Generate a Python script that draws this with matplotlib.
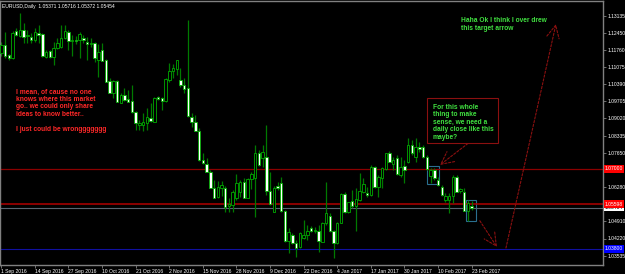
import matplotlib
matplotlib.use('Agg')
import matplotlib.pyplot as plt
import matplotlib.transforms as mtransforms
from matplotlib import font_manager

# EURUSD daily candles, 1 Sep 2016 .. 23 Feb 2017
opens = [1.1164, 1.1196, 1.1154, 1.1144, 1.1252, 1.1232, 1.1256, 1.1230, 1.1228, 1.1216,
         1.1244, 1.1240, 1.1148, 1.1170, 1.1148, 1.1184, 1.1188, 1.1224, 1.1248, 1.1210,
         1.1218, 1.1216, 1.1224, 1.1208, 1.1200, 1.1204, 1.1136, 1.1176, 1.1136, 1.1052,
         1.1004, 1.1052, 1.0965, 1.0996, 1.0980, 1.0972, 1.0929, 1.0876, 1.0876, 1.0883,
         1.0905, 1.0889, 1.0988, 1.0984, 1.0973, 1.1056, 1.1092, 1.1099, 1.1056, 1.1036,
         1.1024, 1.0908, 1.0888, 1.0852, 1.0736, 1.0719, 1.0689, 1.0625, 1.0588, 1.0624,
         1.0625, 1.0552, 1.0556, 1.0583, 1.0609, 1.0649, 1.0585, 1.0660, 1.0664, 1.0764,
         1.0744, 1.0749, 1.0613, 1.0529, 1.0632, 1.0643, 1.0532, 1.0412, 1.0436, 1.0403,
         1.0389, 1.0423, 1.0436, 1.0463, 1.0452, 1.0452, 1.0409, 1.0483, 1.0512, 1.0452,
         1.0403, 1.0485, 1.0600, 1.0527, 1.0572, 1.0552, 1.0576, 1.0609, 1.0603, 1.0596,
         1.0709, 1.0627, 1.0663, 1.0699, 1.0763, 1.0720, 1.0745, 1.0676, 1.0712, 1.0729,
         1.0796, 1.0749, 1.0788, 1.0789, 1.0747, 1.0672, 1.0696, 1.0656, 1.0627, 1.0576,
         1.0576, 1.0592, 1.0669, 1.0612, 1.0609, 1.0532, 1.0553]
highs = [1.1208, 1.1248, 1.1160, 1.1252, 1.1264, 1.1324, 1.1284, 1.1256, 1.1244, 1.1264,
         1.1276, 1.1244, 1.1176, 1.1176, 1.1208, 1.1224, 1.1276, 1.1276, 1.1256, 1.1236,
         1.1232, 1.1248, 1.1236, 1.1228, 1.1224, 1.1208, 1.1200, 1.1203, 1.1140, 1.1064,
         1.1056, 1.1056, 1.1004, 1.1024, 1.1016, 1.1036, 1.0932, 1.0896, 1.0924, 1.0944,
         1.0964, 1.0988, 1.0992, 1.0988, 1.1064, 1.1124, 1.1120, 1.1136, 1.1104, 1.1064,
         1.1296, 1.0924, 1.0916, 1.0864, 1.0764, 1.0744, 1.0696, 1.0656, 1.0652, 1.0652,
         1.0632, 1.0584, 1.0616, 1.0679, 1.0656, 1.0663, 1.0665, 1.0689, 1.0796, 1.0776,
         1.0796, 1.0876, 1.0689, 1.0632, 1.0649, 1.0669, 1.0536, 1.0463, 1.0444, 1.0416,
         1.0449, 1.0496, 1.0476, 1.0472, 1.0468, 1.0476, 1.0489, 1.0649, 1.0523, 1.0456,
         1.0489, 1.0603, 1.0609, 1.0569, 1.0616, 1.0623, 1.0683, 1.0663, 1.0629, 1.0716,
         1.0713, 1.0676, 1.0709, 1.0763, 1.0772, 1.0748, 1.0756, 1.0748, 1.0736, 1.0823,
         1.0816, 1.0823, 1.0808, 1.0796, 1.0756, 1.0704, 1.0704, 1.0668, 1.0636, 1.0604,
         1.0604, 1.0676, 1.0676, 1.0624, 1.0624, 1.0576, 1.0572]
lows = [1.1152, 1.1144, 1.1138, 1.1140, 1.1232, 1.1228, 1.1204, 1.1204, 1.1204, 1.1208,
        1.1204, 1.1148, 1.1144, 1.1144, 1.1116, 1.1180, 1.1184, 1.1220, 1.1176, 1.1152,
        1.1200, 1.1144, 1.1204, 1.1136, 1.1188, 1.1128, 1.1068, 1.1132, 1.1048, 1.1004,
        1.0984, 1.0968, 1.0964, 1.0972, 1.0968, 1.0924, 1.0856, 1.0856, 1.0853, 1.0856,
        1.0888, 1.0888, 1.0976, 1.0936, 1.0969, 1.1049, 1.1064, 1.1076, 1.1028, 1.1004,
        1.0908, 1.0869, 1.0852, 1.0732, 1.0720, 1.0688, 1.0624, 1.0583, 1.0584, 1.0592,
        1.0527, 1.0528, 1.0529, 1.0576, 1.0589, 1.0584, 1.0583, 1.0620, 1.0509, 1.0712,
        1.0708, 1.0596, 1.0556, 1.0528, 1.0616, 1.0529, 1.0409, 1.0365, 1.0400, 1.0349,
        1.0384, 1.0422, 1.0416, 1.0448, 1.0444, 1.0369, 1.0407, 1.0476, 1.0449, 1.0343,
        1.0399, 1.0483, 1.0523, 1.0523, 1.0543, 1.0452, 1.0572, 1.0603, 1.0589, 1.0593,
        1.0623, 1.0589, 1.0623, 1.0696, 1.0727, 1.0696, 1.0676, 1.0668, 1.0644, 1.0724,
        1.0756, 1.0729, 1.0768, 1.0744, 1.0696, 1.0644, 1.0656, 1.0632, 1.0592, 1.0568,
        1.0523, 1.0564, 1.0607, 1.0604, 1.0532, 1.0493, 1.0536]
closes = [1.1196, 1.1152, 1.1142, 1.1244, 1.1236, 1.1256, 1.1228, 1.1236, 1.1216, 1.1246,
          1.1238, 1.1152, 1.1168, 1.1148, 1.1184, 1.1204, 1.1224, 1.1252, 1.1212, 1.1216,
          1.1212, 1.1240, 1.1216, 1.1200, 1.1204, 1.1144, 1.1168, 1.1133, 1.1049, 1.1005,
          1.1052, 1.0969, 1.0996, 1.0976, 1.0969, 1.0929, 1.0883, 1.0883, 1.0889, 1.0909,
          1.0892, 1.0984, 1.0980, 1.0973, 1.1060, 1.1093, 1.1104, 1.1136, 1.1036, 1.1020,
          1.0912, 1.0889, 1.0853, 1.0736, 1.0723, 1.0689, 1.0625, 1.0585, 1.0630, 1.0636,
          1.0549, 1.0560, 1.0608, 1.0643, 1.0649, 1.0585, 1.0660, 1.0679, 1.0764, 1.0716,
          1.0768, 1.0613, 1.0559, 1.0625, 1.0625, 1.0532, 1.0412, 1.0449, 1.0403, 1.0385,
          1.0444, 1.0436, 1.0452, 1.0453, 1.0456, 1.0412, 1.0485, 1.0525, 1.0452, 1.0403,
          1.0485, 1.0600, 1.0529, 1.0567, 1.0552, 1.0580, 1.0612, 1.0639, 1.0596, 1.0709,
          1.0627, 1.0669, 1.0703, 1.0763, 1.0729, 1.0736, 1.0679, 1.0709, 1.0696, 1.0796,
          1.0763, 1.0789, 1.0780, 1.0749, 1.0699, 1.0696, 1.0663, 1.0636, 1.0596, 1.0592,
          1.0592, 1.0669, 1.0609, 1.0618, 1.0533, 1.0564, 1.0543]

date_labels = ['1 Sep 2016', '14 Sep 2016', '27 Sep 2016', '10 Oct 2016', '21 Oct 2016',
               '2 Nov 2016', '15 Nov 2016', '28 Nov 2016', '9 Dec 2016', '22 Dec 2016',
               '4 Jan 2017', '17 Jan 2017', '30 Jan 2017', '10 Feb 2017', '23 Feb 2017']
price_labels = [1.13135, 1.12450, 1.11760, 1.11075, 1.10390, 1.09705, 1.09020, 1.08335,
                1.07650, 1.06280, 1.04910, 1.04220, 1.03535]

# horizontal levels
level_top = 1.07000
level_mid = 1.05598
bid = 1.05454
target = 1.03800

BG = 'black'
WICK = '#007a00'
EDGE = '#00aa00'
GREY = '#808080'

# the terminal uses a very narrow pixel font; take the narrowest face installed
names = {f.name for f in font_manager.fontManager.ttflist}
if 'Liberation Sans Narrow' in names:
    small = dict(family='Liberation Sans Narrow', fontsize=4.3)
else:
    small = dict(family='Liberation Sans', fontsize=3.6)

fig = plt.figure(figsize=(6.25, 2.74), dpi=100, facecolor=BG)
ax = fig.add_axes([0 / 625, 9 / 274, 603 / 625, 264 / 274])
ax.set_facecolor(BG)

n = len(opens)
xs = list(range(n))

# levels drawn first, candles over them
ax.axhline(level_top, color='#8b0000', lw=0.9)
ax.axhline(level_mid, color='#b00000', lw=1.1)
ax.axhline(bid, color='#5a6470', lw=0.8)
ax.axhline(target, color='#1010a0', lw=0.8)

body_w = 0.66
for i in xs:
    o, h, l, c = opens[i], highs[i], lows[i], closes[i]
    ax.vlines(i, l, h, color=WICK, lw=0.9, zorder=2)
    lo, hi = min(o, c), max(o, c)
    if hi - lo < 0.0003:
        hi = lo + 0.0003
    face = 'white' if c < o else BG
    ax.bar(i, hi - lo, bottom=lo, width=body_w, color=face, edgecolor=EDGE,
           linewidth=0.6, zorder=3)

ax.set_xlim(-0.35, 161.2)
ax.set_ylim(1.0316, 1.1372)

# axes frame
for s in ax.spines.values():
    s.set_color(GREY)
    s.set_linewidth(1)

ax.yaxis.tick_right()
ax.set_yticks(price_labels)
ax.set_yticklabels(['%.5f' % p for p in price_labels], color='white', **small)
ax.tick_params(axis='y', length=2, width=0.6, color=GREY, pad=1.5)

ax.set_xticks([k * 9 for k in range(len(date_labels))])
ax.set_xticklabels(date_labels, color='white', ha='left', **small)
ax.tick_params(axis='x', length=2, width=0.6, color=GREY, pad=1)

# price boxes on the right scale (bid box sits under the red one)
yt = mtransforms.blended_transform_factory(ax.transAxes, ax.transData)
for val, fc, tc in [(bid, 'white', 'black'), (level_top, '#ff0000', 'white'),
                    (level_mid, '#ff0000', 'white'), (target, '#0000ff', 'white')]:
    ax.text(1.003, val, '%.5f' % val, transform=yt, color=tc, va='center', ha='left',
            bbox=dict(boxstyle='square,pad=0.25', fc=fc, ec='none'), clip_on=False, **small)

ax.text(0.004, 0.99, 'EURUSD,Daily  1.05371 1.05716 1.05372 1.05454', transform=ax.transAxes,
        color='white', va='top', ha='left', **small)

# drawn objects
RED = '#ff2828'
GREEN = '#40e040'
note = dict(fontsize=4.8, fontweight='bold', family=['Liberation Sans', 'DejaVu Sans'],
            va='top', ha='left', linespacing=1.1)
ax.text(3.9, 1.1022, 'I mean, of cause no one\nknows where this market\ngo.. we could only share\n'
        'ideas to know better..\n\nI just could be wronggggggg', color=RED, **note)
ax.text(123.2, 1.1306, 'Haha Ok I think I over drew\nthis target arrow', color=GREEN, **note)
ax.text(115.6, 1.0961, 'For this whole\nthing to make\nsense, we need a\ndaily close like this\nmaybe?',
        color=GREEN, **note)

DR = '#8b1010'
ax.add_patch(plt.Rectangle((114.1, 1.0803), 19.1, 0.0180, fill=False, ec=DR, lw=0.8))
ax.add_patch(plt.Rectangle((114.1, 1.0639), 3.2, 0.0073, fill=False, ec='#2a6f8f', lw=0.8))
ax.add_patch(plt.Rectangle((124.4, 1.0493), 2.7, 0.0083, fill=False, ec='#2a6f8f', lw=0.8))

arrow = dict(arrowstyle='->,head_length=0.9,head_width=0.45', color=DR, lw=0.8,
             linestyle=(0, (2, 1.5)), shrinkA=0, shrinkB=0)
ax.annotate('', xy=(117.5, 1.0716), xytext=(125.0, 1.0802), arrowprops=arrow)
ax.annotate('', xy=(132.8, 1.0388), xytext=(128.2, 1.0493), arrowprops=arrow)
ax.annotate('', xy=(148.6, 1.1280), xytext=(135.2, 1.0384), arrowprops=arrow)

fig.savefig('out.png', dpi=100, facecolor=BG)
